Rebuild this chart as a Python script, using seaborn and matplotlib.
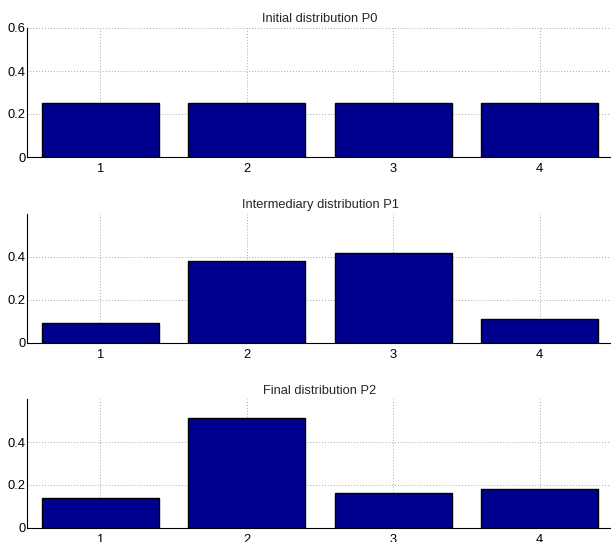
import matplotlib
matplotlib.use("Agg")
import matplotlib.pyplot as plt
import seaborn as sns
import pandas as pd

states = ["1", "2", "3", "4"]
p0 = [0.25, 0.25, 0.25, 0.25]
p1 = [0.091, 0.383, 0.417, 0.110]
p2 = [0.137, 0.513, 0.163, 0.183]
titles = ["Initial distribution P0", "Intermediary distribution P1", "Final distribution P2"]
yticks_list = [[0, 0.2, 0.4, 0.6], [0, 0.2, 0.4], [0, 0.2, 0.4]]
ytick_labels = [["0", "0.2", "0.4", "0.6"], ["0", "0.2", "0.4"], ["0", "0.2", "0.4"]]

sns.set_style("white")
plt.rcParams['font.family'] = ['Liberation Sans', 'DejaVu Sans']

fig = plt.figure(figsize=(6.11, 5.42), dpi=100)
W, H = 611, 542
left = 27 / W
width = 586 / W
boxes = [(157, 28), (342.7, 214), (527.7, 399.3)]

for vals, title, yt, ytl, (yb, ytop) in zip([p0, p1, p2], titles, yticks_list, ytick_labels, boxes):
    ax = fig.add_axes([left, (H - yb) / H, width, (yb - ytop) / H])
    df = pd.DataFrame({"state": states, "p": vals})
    sns.barplot(data=df, x="state", y="p", order=states, color="#00008F",
                saturation=1, width=0.8, edgecolor="black", linewidth=1.0, ax=ax)
    ax.set_xlim(-0.5, 3.5)
    ax.set_ylim(0, 0.6)
    ax.set_yticks(yt)
    ax.set_yticklabels(ytl)
    ax.set_xlabel("")
    ax.set_ylabel("")
    ax.set_title(title, fontsize=9.3, pad=4)
    ax.set_axisbelow(True)
    ax.grid(True, linestyle=(0, (1, 2)), color="#a8a8a8", linewidth=0.7)
    for s in ["top", "right"]:
        ax.spines[s].set_visible(False)
    for s in ["left", "bottom"]:
        ax.spines[s].set_color("black")
        ax.spines[s].set_linewidth(0.8)
    ax.tick_params(axis="both", direction="in", length=3, width=0.6, labelsize=9.3,
                   colors="black", pad=1)
    ax.tick_params(axis="x", length=0, pad=4.5)

fig.savefig("out.png", dpi=100)
